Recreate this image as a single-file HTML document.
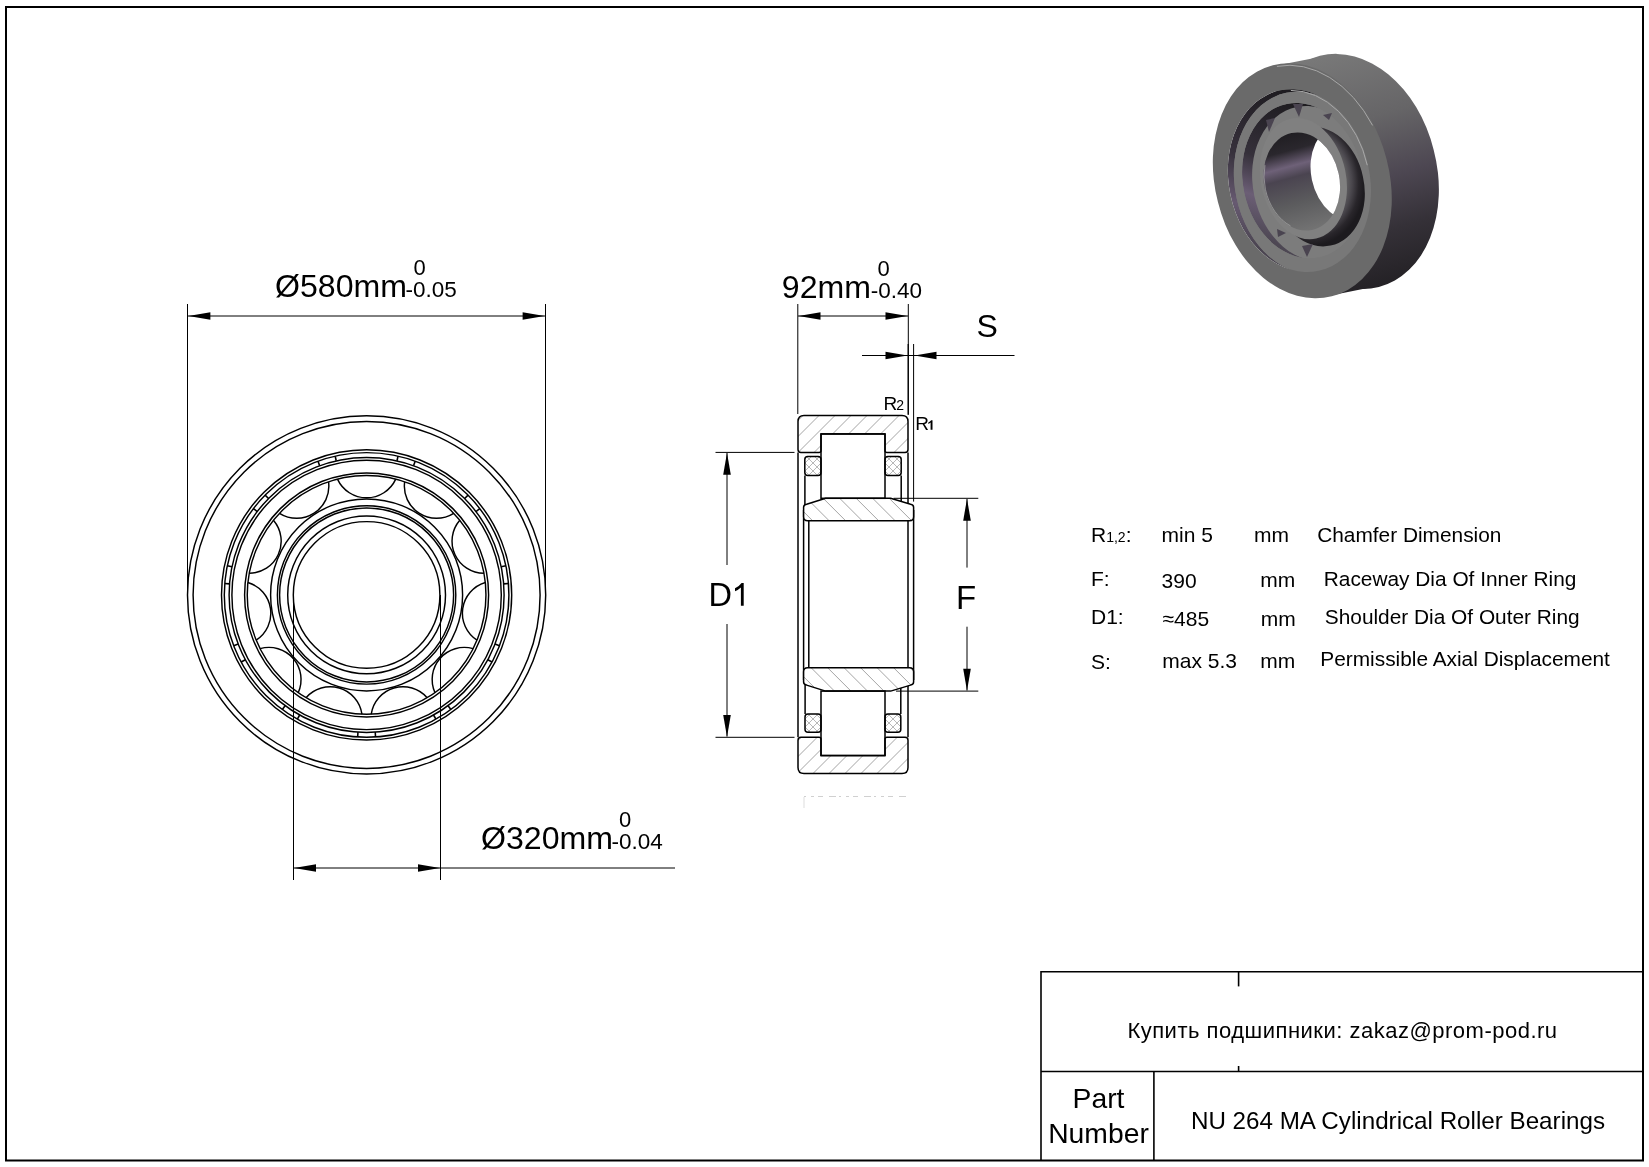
<!DOCTYPE html>
<html><head><meta charset="utf-8"><style>html,body{margin:0;padding:0;background:#fff;overflow:hidden}svg{display:block;will-change:transform}</style></head>
<body><svg width="1649" height="1167" viewBox="0 0 1649 1167">
<defs><clipPath id="cORT"><path d="M798,421.6 Q798,415.6 804,415.6 L902,415.6 Q908,415.6 908,421.6 L908,449.4 Q908,452.4 905,452.4 L887,452.4 Q885,452.4 885,450.4 L885,433.9 L821,433.9 L821,450.4 Q821,452.4 819,452.4 L801,452.4 Q798,452.4 798,449.4 Z"/></clipPath><clipPath id="cORB"><path d="M798,740.3 Q798,737.3 801,737.3 L819,737.3 Q821,737.3 821,739.3 L821,755.6 L885,755.6 L885,739.3 Q885,737.3 887,737.3 L905,737.3 Q908,737.3 908,740.3 L908,767.4 Q908,773.4 902,773.4 L804,773.4 Q798,773.4 798,767.4 Z"/></clipPath><clipPath id="cIRT"><path d="M803.6,507.3 Q803.6,504.8 806.6,504.3 L825.7,498.3 L890.6,498.3 L910.6,504.3 Q913.6,504.8 913.6,507.3 L913.6,516.7 Q913.6,520.7 909.6,520.7 L807.6,520.7 Q803.6,520.7 803.6,516.7 Z"/></clipPath><clipPath id="cIRB"><path d="M803.6,671.8 Q803.6,667.8 807.6,667.8 L909.6,667.8 Q913.6,667.8 913.6,671.8 L913.6,682.1 Q913.6,684.6 910.6,685.1 L890.6,691.1 L825.7,691.1 L806.6,685.1 Q803.6,684.6 803.6,682.1 Z"/></clipPath><clipPath id="cCG0"><path d="M804.8,459.5 Q804.8,456.5 807.8,456.5 L818,456.5 Q821,456.5 821,459.5 L821,472.6 Q821,475.6 818,475.6 L807.8,475.6 Q804.8,475.6 804.8,472.6 Z"/></clipPath><clipPath id="cCG1"><path d="M885,459.5 Q885,456.5 888,456.5 L898.2,456.5 Q901.2,456.5 901.2,459.5 L901.2,472.6 Q901.2,475.6 898.2,475.6 L888,475.6 Q885,475.6 885,472.6 Z"/></clipPath><clipPath id="cCG2"><path d="M805,717 Q805,714 808,714 L818,714 Q821,714 821,717 L821,729.3 Q821,732.3 818,732.3 L808,732.3 Q805,732.3 805,729.3 Z"/></clipPath><clipPath id="cCG3"><path d="M885,717 Q885,714 888,714 L897.8,714 Q900.8,714 900.8,717 L900.8,729.3 Q900.8,732.3 897.8,732.3 L888,732.3 Q885,732.3 885,729.3 Z"/></clipPath></defs>
<rect width="1649" height="1167" fill="#fff"/>
<circle cx="366.6" cy="594.9" r="179.1" fill="none" stroke="#000" stroke-width="1.45"/>
<circle cx="366.6" cy="594.9" r="173.5" fill="none" stroke="#000" stroke-width="1.45"/>
<circle cx="366.6" cy="594.9" r="145.1" fill="none" stroke="#000" stroke-width="1.45"/>
<circle cx="366.6" cy="594.9" r="142.3" fill="none" stroke="#000" stroke-width="1.45"/>
<circle cx="366.6" cy="594.9" r="137.5" fill="none" stroke="#000" stroke-width="1.45"/>
<circle cx="366.6" cy="594.9" r="134.7" fill="none" stroke="#000" stroke-width="1.45"/>
<circle cx="366.6" cy="594.9" r="122.0" fill="none" stroke="#000" stroke-width="1.45"/>
<circle cx="366.6" cy="594.9" r="119.35" fill="none" stroke="#000" stroke-width="1.45"/>
<circle cx="366.6" cy="594.9" r="96.0" fill="none" stroke="#000" stroke-width="1.45"/>
<circle cx="366.6" cy="594.9" r="89.2" fill="none" stroke="#000" stroke-width="1.45"/>
<circle cx="366.6" cy="594.9" r="87.0" fill="none" stroke="#000" stroke-width="1.45"/>
<circle cx="366.6" cy="594.9" r="78.9" fill="none" stroke="#000" stroke-width="1.45"/>
<circle cx="366.6" cy="594.9" r="73.3" fill="none" stroke="#000" stroke-width="1.45"/>
<path d="M337.46,479.16 A32.1,32.1 0 0 0 395.74,479.16" fill="none" stroke="#000" stroke-width="1.45"/>
<path d="M404.66,481.78 A32.1,32.1 0 0 0 453.69,513.29" fill="none" stroke="#000" stroke-width="1.45"/>
<path d="M459.77,520.31 A32.1,32.1 0 0 0 483.98,573.33" fill="none" stroke="#000" stroke-width="1.45"/>
<path d="M485.31,582.53 A32.1,32.1 0 0 0 477.01,640.22" fill="none" stroke="#000" stroke-width="1.45"/>
<path d="M473.15,648.67 A32.1,32.1 0 0 0 434.99,692.72" fill="none" stroke="#000" stroke-width="1.45"/>
<path d="M427.17,697.74 A32.1,32.1 0 0 0 371.25,714.16" fill="none" stroke="#000" stroke-width="1.45"/>
<path d="M361.95,714.16 A32.1,32.1 0 0 0 306.03,697.74" fill="none" stroke="#000" stroke-width="1.45"/>
<path d="M298.21,692.72 A32.1,32.1 0 0 0 260.05,648.67" fill="none" stroke="#000" stroke-width="1.45"/>
<path d="M256.19,640.22 A32.1,32.1 0 0 0 247.89,582.53" fill="none" stroke="#000" stroke-width="1.45"/>
<path d="M249.22,573.33 A32.1,32.1 0 0 0 273.43,520.31" fill="none" stroke="#000" stroke-width="1.45"/>
<path d="M279.51,513.29 A32.1,32.1 0 0 0 328.54,481.78" fill="none" stroke="#000" stroke-width="1.45"/>
<line x1="396.98" y1="460.80" x2="398.04" y2="456.12" stroke="#000" stroke-width="1.6"/>
<line x1="413.55" y1="465.66" x2="415.18" y2="461.15" stroke="#000" stroke-width="1.6"/>
<line x1="464.66" y1="498.51" x2="468.08" y2="495.14" stroke="#000" stroke-width="1.6"/>
<line x1="475.96" y1="511.56" x2="479.78" y2="508.65" stroke="#000" stroke-width="1.6"/>
<line x1="501.20" y1="566.82" x2="505.90" y2="565.84" stroke="#000" stroke-width="1.6"/>
<line x1="503.66" y1="583.92" x2="508.45" y2="583.53" stroke="#000" stroke-width="1.6"/>
<line x1="495.01" y1="644.05" x2="499.50" y2="645.77" stroke="#000" stroke-width="1.6"/>
<line x1="487.84" y1="659.76" x2="492.07" y2="662.02" stroke="#000" stroke-width="1.6"/>
<line x1="448.05" y1="705.68" x2="450.90" y2="709.54" stroke="#000" stroke-width="1.6"/>
<line x1="433.53" y1="715.01" x2="435.86" y2="719.20" stroke="#000" stroke-width="1.6"/>
<line x1="375.23" y1="732.13" x2="375.54" y2="736.92" stroke="#000" stroke-width="1.6"/>
<line x1="357.97" y1="732.13" x2="357.66" y2="736.92" stroke="#000" stroke-width="1.6"/>
<line x1="299.67" y1="715.01" x2="297.34" y2="719.20" stroke="#000" stroke-width="1.6"/>
<line x1="285.15" y1="705.68" x2="282.30" y2="709.54" stroke="#000" stroke-width="1.6"/>
<line x1="245.36" y1="659.76" x2="241.13" y2="662.02" stroke="#000" stroke-width="1.6"/>
<line x1="238.19" y1="644.05" x2="233.70" y2="645.77" stroke="#000" stroke-width="1.6"/>
<line x1="229.54" y1="583.92" x2="224.75" y2="583.53" stroke="#000" stroke-width="1.6"/>
<line x1="232.00" y1="566.82" x2="227.30" y2="565.84" stroke="#000" stroke-width="1.6"/>
<line x1="257.24" y1="511.56" x2="253.42" y2="508.65" stroke="#000" stroke-width="1.6"/>
<line x1="268.54" y1="498.51" x2="265.12" y2="495.14" stroke="#000" stroke-width="1.6"/>
<line x1="319.65" y1="465.66" x2="318.02" y2="461.15" stroke="#000" stroke-width="1.6"/>
<line x1="336.22" y1="460.80" x2="335.16" y2="456.12" stroke="#000" stroke-width="1.6"/>
<line x1="187.5" y1="304" x2="187.5" y2="592" stroke="#000" stroke-width="1"/>
<line x1="545.5" y1="304" x2="545.5" y2="592" stroke="#000" stroke-width="1"/>
<line x1="188" y1="316" x2="545" y2="316" stroke="#000" stroke-width="1"/>
<path d="M188.4,316 L210.40,312.20 L210.40,319.80 Z" fill="#000"/>
<path d="M544.6,316 L522.60,319.80 L522.60,312.20 Z" fill="#000"/>
<text x="275" y="297" font-family="Liberation Sans" font-size="32.1" text-anchor="start" fill="#000" >Ø580mm</text>
<text x="405.5" y="297" font-family="Liberation Sans" font-size="22.5" text-anchor="start" fill="#000" >-0.05</text>
<text x="413.5" y="275" font-family="Liberation Sans" font-size="22" text-anchor="start" fill="#000" >0</text>
<line x1="293.5" y1="595" x2="293.5" y2="880" stroke="#000" stroke-width="1"/>
<line x1="440.5" y1="595" x2="440.5" y2="880" stroke="#000" stroke-width="1"/>
<line x1="294" y1="868" x2="675" y2="868" stroke="#000" stroke-width="1"/>
<path d="M294,868 L316.00,864.20 L316.00,871.80 Z" fill="#000"/>
<path d="M440,868 L418.00,871.80 L418.00,864.20 Z" fill="#000"/>
<text x="481" y="849" font-family="Liberation Sans" font-size="32.1" text-anchor="start" fill="#000" >Ø320mm</text>
<text x="611.5" y="849" font-family="Liberation Sans" font-size="22.5" text-anchor="start" fill="#000" >-0.04</text>
<text x="619" y="827" font-family="Liberation Sans" font-size="22" text-anchor="start" fill="#000" >0</text>
<line x1="798" y1="452.4" x2="798" y2="737.3" stroke="#000" stroke-width="1.5"/>
<line x1="908" y1="452.4" x2="908" y2="737.3" stroke="#000" stroke-width="1.5"/>
<line x1="803.6" y1="510" x2="803.6" y2="680" stroke="#000" stroke-width="1.5"/>
<line x1="913.6" y1="510" x2="913.6" y2="680" stroke="#000" stroke-width="1.5"/>
<line x1="808.8" y1="510" x2="808.8" y2="680" stroke="#000" stroke-width="1.5"/>
<line x1="804.9" y1="475.6" x2="804.9" y2="510" stroke="#000" stroke-width="1.5"/>
<line x1="901.2" y1="475.6" x2="901.2" y2="510" stroke="#000" stroke-width="1.5"/>
<line x1="805.1" y1="680" x2="805.1" y2="714" stroke="#000" stroke-width="1.5"/>
<line x1="900.8" y1="680" x2="900.8" y2="714" stroke="#000" stroke-width="1.5"/>
<path d="M798,421.6 Q798,415.6 804,415.6 L902,415.6 Q908,415.6 908,421.6 L908,449.4 Q908,452.4 905,452.4 L887,452.4 Q885,452.4 885,450.4 L885,433.9 L821,433.9 L821,450.4 Q821,452.4 819,452.4 L801,452.4 Q798,452.4 798,449.4 Z" fill="#fff" stroke="none" stroke-width="0" stroke-linejoin="round" />
<path d="M710.50,460 L760.50,410 M726.50,460 L776.50,410 M742.50,460 L792.50,410 M758.50,460 L808.50,410 M774.50,460 L824.50,410 M790.50,460 L840.50,410 M806.50,460 L856.50,410 M822.50,460 L872.50,410 M838.50,460 L888.50,410 M854.50,460 L904.50,410 M870.50,460 L920.50,410 M886.50,460 L936.50,410 M902.50,460 L952.50,410 M918.50,460 L968.50,410 M934.50,460 L984.50,410 M950.50,460 L1000.50,410 M966.50,460 L1016.50,410 M982.50,460 L1032.50,410" stroke="#9a9a9a" stroke-width="0.9" fill="none" clip-path="url(#cORT)"/>
<path d="M798,740.3 Q798,737.3 801,737.3 L819,737.3 Q821,737.3 821,739.3 L821,755.6 L885,755.6 L885,739.3 Q885,737.3 887,737.3 L905,737.3 Q908,737.3 908,740.3 L908,767.4 Q908,773.4 902,773.4 L804,773.4 Q798,773.4 798,767.4 Z" fill="#fff" stroke="none" stroke-width="0" stroke-linejoin="round" />
<path d="M710.50,780 L760.50,730 M726.50,780 L776.50,730 M742.50,780 L792.50,730 M758.50,780 L808.50,730 M774.50,780 L824.50,730 M790.50,780 L840.50,730 M806.50,780 L856.50,730 M822.50,780 L872.50,730 M838.50,780 L888.50,730 M854.50,780 L904.50,730 M870.50,780 L920.50,730 M886.50,780 L936.50,730 M902.50,780 L952.50,730 M918.50,780 L968.50,730 M934.50,780 L984.50,730 M950.50,780 L1000.50,730 M966.50,780 L1016.50,730 M982.50,780 L1032.50,730" stroke="#9a9a9a" stroke-width="0.9" fill="none" clip-path="url(#cORB)"/>
<path d="M803.6,507.3 Q803.6,504.8 806.6,504.3 L825.7,498.3 L890.6,498.3 L910.6,504.3 Q913.6,504.8 913.6,507.3 L913.6,516.7 Q913.6,520.7 909.6,520.7 L807.6,520.7 Q803.6,520.7 803.6,516.7 Z" fill="#fff" stroke="none" stroke-width="0" stroke-linejoin="round" />
<path d="M737.40,495 L767.40,525 M753.90,495 L783.90,525 M770.40,495 L800.40,525 M786.90,495 L816.90,525 M803.40,495 L833.40,525 M819.90,495 L849.90,525 M836.40,495 L866.40,525 M852.90,495 L882.90,525 M869.40,495 L899.40,525 M885.90,495 L915.90,525 M902.40,495 L932.40,525 M918.90,495 L948.90,525 M935.40,495 L965.40,525 M951.90,495 L981.90,525" stroke="#9a9a9a" stroke-width="0.9" fill="none" clip-path="url(#cIRT)"/>
<path d="M803.6,671.8 Q803.6,667.8 807.6,667.8 L909.6,667.8 Q913.6,667.8 913.6,671.8 L913.6,682.1 Q913.6,684.6 910.6,685.1 L890.6,691.1 L825.7,691.1 L806.6,685.1 Q803.6,684.6 803.6,682.1 Z" fill="#fff" stroke="none" stroke-width="0" stroke-linejoin="round" />
<path d="M737.40,660 L772.40,695 M753.90,660 L788.90,695 M770.40,660 L805.40,695 M786.90,660 L821.90,695 M803.40,660 L838.40,695 M819.90,660 L854.90,695 M836.40,660 L871.40,695 M852.90,660 L887.90,695 M869.40,660 L904.40,695 M885.90,660 L920.90,695 M902.40,660 L937.40,695 M918.90,660 L953.90,695 M935.40,660 L970.40,695 M951.90,660 L986.90,695 M968.40,660 L1003.40,695" stroke="#9a9a9a" stroke-width="0.9" fill="none" clip-path="url(#cIRB)"/>
<path d="M804.8,459.5 Q804.8,456.5 807.8,456.5 L818,456.5 Q821,456.5 821,459.5 L821,472.6 Q821,475.6 818,475.6 L807.8,475.6 Q804.8,475.6 804.8,472.6 Z" fill="#fff" stroke="none" stroke-width="0" stroke-linejoin="round" />
<path d="M496.00,740 L786.00,450 M504.00,740 L794.00,450 M512.00,740 L802.00,450 M520.00,740 L810.00,450 M528.00,740 L818.00,450 M536.00,740 L826.00,450 M544.00,740 L834.00,450 M552.00,740 L842.00,450 M560.00,740 L850.00,450 M568.00,740 L858.00,450 M576.00,740 L866.00,450 M584.00,740 L874.00,450 M592.00,740 L882.00,450 M600.00,740 L890.00,450 M608.00,740 L898.00,450 M616.00,740 L906.00,450 M624.00,740 L914.00,450 M632.00,740 L922.00,450 M640.00,740 L930.00,450 M648.00,740 L938.00,450 M656.00,740 L946.00,450 M664.00,740 L954.00,450 M672.00,740 L962.00,450 M680.00,740 L970.00,450 M688.00,740 L978.00,450 M696.00,740 L986.00,450 M704.00,740 L994.00,450 M712.00,740 L1002.00,450 M720.00,740 L1010.00,450 M728.00,740 L1018.00,450 M736.00,740 L1026.00,450 M744.00,740 L1034.00,450 M752.00,740 L1042.00,450 M760.00,740 L1050.00,450 M768.00,740 L1058.00,450 M776.00,740 L1066.00,450 M784.00,740 L1074.00,450 M792.00,740 L1082.00,450 M800.00,740 L1090.00,450 M808.00,740 L1098.00,450 M816.00,740 L1106.00,450 M824.00,740 L1114.00,450 M832.00,740 L1122.00,450 M840.00,740 L1130.00,450 M848.00,740 L1138.00,450 M856.00,740 L1146.00,450 M864.00,740 L1154.00,450 M872.00,740 L1162.00,450 M880.00,740 L1170.00,450 M888.00,740 L1178.00,450 M896.00,740 L1186.00,450 M904.00,740 L1194.00,450 M912.00,740 L1202.00,450 M920.00,740 L1210.00,450 M928.00,740 L1218.00,450 M936.00,740 L1226.00,450 M944.00,740 L1234.00,450 M952.00,740 L1242.00,450 M960.00,740 L1250.00,450 M968.00,740 L1258.00,450 M976.00,740 L1266.00,450 M984.00,740 L1274.00,450 M992.00,740 L1282.00,450 M1000.00,740 L1290.00,450 M1008.00,740 L1298.00,450 M1016.00,740 L1306.00,450 M1024.00,740 L1314.00,450 M1032.00,740 L1322.00,450 M1040.00,740 L1330.00,450 M1048.00,740 L1338.00,450 M1056.00,740 L1346.00,450 M1064.00,740 L1354.00,450 M1072.00,740 L1362.00,450 M1080.00,740 L1370.00,450 M1088.00,740 L1378.00,450 M1096.00,740 L1386.00,450 M1104.00,740 L1394.00,450 M1112.00,740 L1402.00,450 M1120.00,740 L1410.00,450 M1128.00,740 L1418.00,450 M1136.00,740 L1426.00,450 M1144.00,740 L1434.00,450 M1152.00,740 L1442.00,450 M1160.00,740 L1450.00,450 M1168.00,740 L1458.00,450 M1176.00,740 L1466.00,450 M1184.00,740 L1474.00,450 M1192.00,740 L1482.00,450 M1200.00,740 L1490.00,450" stroke="#999" stroke-width="0.7" fill="none" clip-path="url(#cCG0)"/>
<path d="M496.00,450 L786.00,740 M504.00,450 L794.00,740 M512.00,450 L802.00,740 M520.00,450 L810.00,740 M528.00,450 L818.00,740 M536.00,450 L826.00,740 M544.00,450 L834.00,740 M552.00,450 L842.00,740 M560.00,450 L850.00,740 M568.00,450 L858.00,740 M576.00,450 L866.00,740 M584.00,450 L874.00,740 M592.00,450 L882.00,740 M600.00,450 L890.00,740 M608.00,450 L898.00,740 M616.00,450 L906.00,740 M624.00,450 L914.00,740 M632.00,450 L922.00,740 M640.00,450 L930.00,740 M648.00,450 L938.00,740 M656.00,450 L946.00,740 M664.00,450 L954.00,740 M672.00,450 L962.00,740 M680.00,450 L970.00,740 M688.00,450 L978.00,740 M696.00,450 L986.00,740 M704.00,450 L994.00,740 M712.00,450 L1002.00,740 M720.00,450 L1010.00,740 M728.00,450 L1018.00,740 M736.00,450 L1026.00,740 M744.00,450 L1034.00,740 M752.00,450 L1042.00,740 M760.00,450 L1050.00,740 M768.00,450 L1058.00,740 M776.00,450 L1066.00,740 M784.00,450 L1074.00,740 M792.00,450 L1082.00,740 M800.00,450 L1090.00,740 M808.00,450 L1098.00,740 M816.00,450 L1106.00,740 M824.00,450 L1114.00,740 M832.00,450 L1122.00,740 M840.00,450 L1130.00,740 M848.00,450 L1138.00,740 M856.00,450 L1146.00,740 M864.00,450 L1154.00,740 M872.00,450 L1162.00,740 M880.00,450 L1170.00,740 M888.00,450 L1178.00,740 M896.00,450 L1186.00,740 M904.00,450 L1194.00,740 M912.00,450 L1202.00,740 M920.00,450 L1210.00,740 M928.00,450 L1218.00,740 M936.00,450 L1226.00,740 M944.00,450 L1234.00,740 M952.00,450 L1242.00,740 M960.00,450 L1250.00,740 M968.00,450 L1258.00,740 M976.00,450 L1266.00,740 M984.00,450 L1274.00,740 M992.00,450 L1282.00,740 M1000.00,450 L1290.00,740 M1008.00,450 L1298.00,740 M1016.00,450 L1306.00,740 M1024.00,450 L1314.00,740 M1032.00,450 L1322.00,740 M1040.00,450 L1330.00,740 M1048.00,450 L1338.00,740 M1056.00,450 L1346.00,740 M1064.00,450 L1354.00,740 M1072.00,450 L1362.00,740 M1080.00,450 L1370.00,740 M1088.00,450 L1378.00,740 M1096.00,450 L1386.00,740 M1104.00,450 L1394.00,740 M1112.00,450 L1402.00,740 M1120.00,450 L1410.00,740 M1128.00,450 L1418.00,740 M1136.00,450 L1426.00,740 M1144.00,450 L1434.00,740 M1152.00,450 L1442.00,740 M1160.00,450 L1450.00,740 M1168.00,450 L1458.00,740 M1176.00,450 L1466.00,740 M1184.00,450 L1474.00,740 M1192.00,450 L1482.00,740 M1200.00,450 L1490.00,740" stroke="#999" stroke-width="0.7" fill="none" clip-path="url(#cCG0)"/>
<path d="M885,459.5 Q885,456.5 888,456.5 L898.2,456.5 Q901.2,456.5 901.2,459.5 L901.2,472.6 Q901.2,475.6 898.2,475.6 L888,475.6 Q885,475.6 885,472.6 Z" fill="#fff" stroke="none" stroke-width="0" stroke-linejoin="round" />
<path d="M496.00,740 L786.00,450 M504.00,740 L794.00,450 M512.00,740 L802.00,450 M520.00,740 L810.00,450 M528.00,740 L818.00,450 M536.00,740 L826.00,450 M544.00,740 L834.00,450 M552.00,740 L842.00,450 M560.00,740 L850.00,450 M568.00,740 L858.00,450 M576.00,740 L866.00,450 M584.00,740 L874.00,450 M592.00,740 L882.00,450 M600.00,740 L890.00,450 M608.00,740 L898.00,450 M616.00,740 L906.00,450 M624.00,740 L914.00,450 M632.00,740 L922.00,450 M640.00,740 L930.00,450 M648.00,740 L938.00,450 M656.00,740 L946.00,450 M664.00,740 L954.00,450 M672.00,740 L962.00,450 M680.00,740 L970.00,450 M688.00,740 L978.00,450 M696.00,740 L986.00,450 M704.00,740 L994.00,450 M712.00,740 L1002.00,450 M720.00,740 L1010.00,450 M728.00,740 L1018.00,450 M736.00,740 L1026.00,450 M744.00,740 L1034.00,450 M752.00,740 L1042.00,450 M760.00,740 L1050.00,450 M768.00,740 L1058.00,450 M776.00,740 L1066.00,450 M784.00,740 L1074.00,450 M792.00,740 L1082.00,450 M800.00,740 L1090.00,450 M808.00,740 L1098.00,450 M816.00,740 L1106.00,450 M824.00,740 L1114.00,450 M832.00,740 L1122.00,450 M840.00,740 L1130.00,450 M848.00,740 L1138.00,450 M856.00,740 L1146.00,450 M864.00,740 L1154.00,450 M872.00,740 L1162.00,450 M880.00,740 L1170.00,450 M888.00,740 L1178.00,450 M896.00,740 L1186.00,450 M904.00,740 L1194.00,450 M912.00,740 L1202.00,450 M920.00,740 L1210.00,450 M928.00,740 L1218.00,450 M936.00,740 L1226.00,450 M944.00,740 L1234.00,450 M952.00,740 L1242.00,450 M960.00,740 L1250.00,450 M968.00,740 L1258.00,450 M976.00,740 L1266.00,450 M984.00,740 L1274.00,450 M992.00,740 L1282.00,450 M1000.00,740 L1290.00,450 M1008.00,740 L1298.00,450 M1016.00,740 L1306.00,450 M1024.00,740 L1314.00,450 M1032.00,740 L1322.00,450 M1040.00,740 L1330.00,450 M1048.00,740 L1338.00,450 M1056.00,740 L1346.00,450 M1064.00,740 L1354.00,450 M1072.00,740 L1362.00,450 M1080.00,740 L1370.00,450 M1088.00,740 L1378.00,450 M1096.00,740 L1386.00,450 M1104.00,740 L1394.00,450 M1112.00,740 L1402.00,450 M1120.00,740 L1410.00,450 M1128.00,740 L1418.00,450 M1136.00,740 L1426.00,450 M1144.00,740 L1434.00,450 M1152.00,740 L1442.00,450 M1160.00,740 L1450.00,450 M1168.00,740 L1458.00,450 M1176.00,740 L1466.00,450 M1184.00,740 L1474.00,450 M1192.00,740 L1482.00,450 M1200.00,740 L1490.00,450" stroke="#999" stroke-width="0.7" fill="none" clip-path="url(#cCG1)"/>
<path d="M496.00,450 L786.00,740 M504.00,450 L794.00,740 M512.00,450 L802.00,740 M520.00,450 L810.00,740 M528.00,450 L818.00,740 M536.00,450 L826.00,740 M544.00,450 L834.00,740 M552.00,450 L842.00,740 M560.00,450 L850.00,740 M568.00,450 L858.00,740 M576.00,450 L866.00,740 M584.00,450 L874.00,740 M592.00,450 L882.00,740 M600.00,450 L890.00,740 M608.00,450 L898.00,740 M616.00,450 L906.00,740 M624.00,450 L914.00,740 M632.00,450 L922.00,740 M640.00,450 L930.00,740 M648.00,450 L938.00,740 M656.00,450 L946.00,740 M664.00,450 L954.00,740 M672.00,450 L962.00,740 M680.00,450 L970.00,740 M688.00,450 L978.00,740 M696.00,450 L986.00,740 M704.00,450 L994.00,740 M712.00,450 L1002.00,740 M720.00,450 L1010.00,740 M728.00,450 L1018.00,740 M736.00,450 L1026.00,740 M744.00,450 L1034.00,740 M752.00,450 L1042.00,740 M760.00,450 L1050.00,740 M768.00,450 L1058.00,740 M776.00,450 L1066.00,740 M784.00,450 L1074.00,740 M792.00,450 L1082.00,740 M800.00,450 L1090.00,740 M808.00,450 L1098.00,740 M816.00,450 L1106.00,740 M824.00,450 L1114.00,740 M832.00,450 L1122.00,740 M840.00,450 L1130.00,740 M848.00,450 L1138.00,740 M856.00,450 L1146.00,740 M864.00,450 L1154.00,740 M872.00,450 L1162.00,740 M880.00,450 L1170.00,740 M888.00,450 L1178.00,740 M896.00,450 L1186.00,740 M904.00,450 L1194.00,740 M912.00,450 L1202.00,740 M920.00,450 L1210.00,740 M928.00,450 L1218.00,740 M936.00,450 L1226.00,740 M944.00,450 L1234.00,740 M952.00,450 L1242.00,740 M960.00,450 L1250.00,740 M968.00,450 L1258.00,740 M976.00,450 L1266.00,740 M984.00,450 L1274.00,740 M992.00,450 L1282.00,740 M1000.00,450 L1290.00,740 M1008.00,450 L1298.00,740 M1016.00,450 L1306.00,740 M1024.00,450 L1314.00,740 M1032.00,450 L1322.00,740 M1040.00,450 L1330.00,740 M1048.00,450 L1338.00,740 M1056.00,450 L1346.00,740 M1064.00,450 L1354.00,740 M1072.00,450 L1362.00,740 M1080.00,450 L1370.00,740 M1088.00,450 L1378.00,740 M1096.00,450 L1386.00,740 M1104.00,450 L1394.00,740 M1112.00,450 L1402.00,740 M1120.00,450 L1410.00,740 M1128.00,450 L1418.00,740 M1136.00,450 L1426.00,740 M1144.00,450 L1434.00,740 M1152.00,450 L1442.00,740 M1160.00,450 L1450.00,740 M1168.00,450 L1458.00,740 M1176.00,450 L1466.00,740 M1184.00,450 L1474.00,740 M1192.00,450 L1482.00,740 M1200.00,450 L1490.00,740" stroke="#999" stroke-width="0.7" fill="none" clip-path="url(#cCG1)"/>
<path d="M805,717 Q805,714 808,714 L818,714 Q821,714 821,717 L821,729.3 Q821,732.3 818,732.3 L808,732.3 Q805,732.3 805,729.3 Z" fill="#fff" stroke="none" stroke-width="0" stroke-linejoin="round" />
<path d="M496.00,740 L786.00,450 M504.00,740 L794.00,450 M512.00,740 L802.00,450 M520.00,740 L810.00,450 M528.00,740 L818.00,450 M536.00,740 L826.00,450 M544.00,740 L834.00,450 M552.00,740 L842.00,450 M560.00,740 L850.00,450 M568.00,740 L858.00,450 M576.00,740 L866.00,450 M584.00,740 L874.00,450 M592.00,740 L882.00,450 M600.00,740 L890.00,450 M608.00,740 L898.00,450 M616.00,740 L906.00,450 M624.00,740 L914.00,450 M632.00,740 L922.00,450 M640.00,740 L930.00,450 M648.00,740 L938.00,450 M656.00,740 L946.00,450 M664.00,740 L954.00,450 M672.00,740 L962.00,450 M680.00,740 L970.00,450 M688.00,740 L978.00,450 M696.00,740 L986.00,450 M704.00,740 L994.00,450 M712.00,740 L1002.00,450 M720.00,740 L1010.00,450 M728.00,740 L1018.00,450 M736.00,740 L1026.00,450 M744.00,740 L1034.00,450 M752.00,740 L1042.00,450 M760.00,740 L1050.00,450 M768.00,740 L1058.00,450 M776.00,740 L1066.00,450 M784.00,740 L1074.00,450 M792.00,740 L1082.00,450 M800.00,740 L1090.00,450 M808.00,740 L1098.00,450 M816.00,740 L1106.00,450 M824.00,740 L1114.00,450 M832.00,740 L1122.00,450 M840.00,740 L1130.00,450 M848.00,740 L1138.00,450 M856.00,740 L1146.00,450 M864.00,740 L1154.00,450 M872.00,740 L1162.00,450 M880.00,740 L1170.00,450 M888.00,740 L1178.00,450 M896.00,740 L1186.00,450 M904.00,740 L1194.00,450 M912.00,740 L1202.00,450 M920.00,740 L1210.00,450 M928.00,740 L1218.00,450 M936.00,740 L1226.00,450 M944.00,740 L1234.00,450 M952.00,740 L1242.00,450 M960.00,740 L1250.00,450 M968.00,740 L1258.00,450 M976.00,740 L1266.00,450 M984.00,740 L1274.00,450 M992.00,740 L1282.00,450 M1000.00,740 L1290.00,450 M1008.00,740 L1298.00,450 M1016.00,740 L1306.00,450 M1024.00,740 L1314.00,450 M1032.00,740 L1322.00,450 M1040.00,740 L1330.00,450 M1048.00,740 L1338.00,450 M1056.00,740 L1346.00,450 M1064.00,740 L1354.00,450 M1072.00,740 L1362.00,450 M1080.00,740 L1370.00,450 M1088.00,740 L1378.00,450 M1096.00,740 L1386.00,450 M1104.00,740 L1394.00,450 M1112.00,740 L1402.00,450 M1120.00,740 L1410.00,450 M1128.00,740 L1418.00,450 M1136.00,740 L1426.00,450 M1144.00,740 L1434.00,450 M1152.00,740 L1442.00,450 M1160.00,740 L1450.00,450 M1168.00,740 L1458.00,450 M1176.00,740 L1466.00,450 M1184.00,740 L1474.00,450 M1192.00,740 L1482.00,450 M1200.00,740 L1490.00,450" stroke="#999" stroke-width="0.7" fill="none" clip-path="url(#cCG2)"/>
<path d="M496.00,450 L786.00,740 M504.00,450 L794.00,740 M512.00,450 L802.00,740 M520.00,450 L810.00,740 M528.00,450 L818.00,740 M536.00,450 L826.00,740 M544.00,450 L834.00,740 M552.00,450 L842.00,740 M560.00,450 L850.00,740 M568.00,450 L858.00,740 M576.00,450 L866.00,740 M584.00,450 L874.00,740 M592.00,450 L882.00,740 M600.00,450 L890.00,740 M608.00,450 L898.00,740 M616.00,450 L906.00,740 M624.00,450 L914.00,740 M632.00,450 L922.00,740 M640.00,450 L930.00,740 M648.00,450 L938.00,740 M656.00,450 L946.00,740 M664.00,450 L954.00,740 M672.00,450 L962.00,740 M680.00,450 L970.00,740 M688.00,450 L978.00,740 M696.00,450 L986.00,740 M704.00,450 L994.00,740 M712.00,450 L1002.00,740 M720.00,450 L1010.00,740 M728.00,450 L1018.00,740 M736.00,450 L1026.00,740 M744.00,450 L1034.00,740 M752.00,450 L1042.00,740 M760.00,450 L1050.00,740 M768.00,450 L1058.00,740 M776.00,450 L1066.00,740 M784.00,450 L1074.00,740 M792.00,450 L1082.00,740 M800.00,450 L1090.00,740 M808.00,450 L1098.00,740 M816.00,450 L1106.00,740 M824.00,450 L1114.00,740 M832.00,450 L1122.00,740 M840.00,450 L1130.00,740 M848.00,450 L1138.00,740 M856.00,450 L1146.00,740 M864.00,450 L1154.00,740 M872.00,450 L1162.00,740 M880.00,450 L1170.00,740 M888.00,450 L1178.00,740 M896.00,450 L1186.00,740 M904.00,450 L1194.00,740 M912.00,450 L1202.00,740 M920.00,450 L1210.00,740 M928.00,450 L1218.00,740 M936.00,450 L1226.00,740 M944.00,450 L1234.00,740 M952.00,450 L1242.00,740 M960.00,450 L1250.00,740 M968.00,450 L1258.00,740 M976.00,450 L1266.00,740 M984.00,450 L1274.00,740 M992.00,450 L1282.00,740 M1000.00,450 L1290.00,740 M1008.00,450 L1298.00,740 M1016.00,450 L1306.00,740 M1024.00,450 L1314.00,740 M1032.00,450 L1322.00,740 M1040.00,450 L1330.00,740 M1048.00,450 L1338.00,740 M1056.00,450 L1346.00,740 M1064.00,450 L1354.00,740 M1072.00,450 L1362.00,740 M1080.00,450 L1370.00,740 M1088.00,450 L1378.00,740 M1096.00,450 L1386.00,740 M1104.00,450 L1394.00,740 M1112.00,450 L1402.00,740 M1120.00,450 L1410.00,740 M1128.00,450 L1418.00,740 M1136.00,450 L1426.00,740 M1144.00,450 L1434.00,740 M1152.00,450 L1442.00,740 M1160.00,450 L1450.00,740 M1168.00,450 L1458.00,740 M1176.00,450 L1466.00,740 M1184.00,450 L1474.00,740 M1192.00,450 L1482.00,740 M1200.00,450 L1490.00,740" stroke="#999" stroke-width="0.7" fill="none" clip-path="url(#cCG2)"/>
<path d="M885,717 Q885,714 888,714 L897.8,714 Q900.8,714 900.8,717 L900.8,729.3 Q900.8,732.3 897.8,732.3 L888,732.3 Q885,732.3 885,729.3 Z" fill="#fff" stroke="none" stroke-width="0" stroke-linejoin="round" />
<path d="M496.00,740 L786.00,450 M504.00,740 L794.00,450 M512.00,740 L802.00,450 M520.00,740 L810.00,450 M528.00,740 L818.00,450 M536.00,740 L826.00,450 M544.00,740 L834.00,450 M552.00,740 L842.00,450 M560.00,740 L850.00,450 M568.00,740 L858.00,450 M576.00,740 L866.00,450 M584.00,740 L874.00,450 M592.00,740 L882.00,450 M600.00,740 L890.00,450 M608.00,740 L898.00,450 M616.00,740 L906.00,450 M624.00,740 L914.00,450 M632.00,740 L922.00,450 M640.00,740 L930.00,450 M648.00,740 L938.00,450 M656.00,740 L946.00,450 M664.00,740 L954.00,450 M672.00,740 L962.00,450 M680.00,740 L970.00,450 M688.00,740 L978.00,450 M696.00,740 L986.00,450 M704.00,740 L994.00,450 M712.00,740 L1002.00,450 M720.00,740 L1010.00,450 M728.00,740 L1018.00,450 M736.00,740 L1026.00,450 M744.00,740 L1034.00,450 M752.00,740 L1042.00,450 M760.00,740 L1050.00,450 M768.00,740 L1058.00,450 M776.00,740 L1066.00,450 M784.00,740 L1074.00,450 M792.00,740 L1082.00,450 M800.00,740 L1090.00,450 M808.00,740 L1098.00,450 M816.00,740 L1106.00,450 M824.00,740 L1114.00,450 M832.00,740 L1122.00,450 M840.00,740 L1130.00,450 M848.00,740 L1138.00,450 M856.00,740 L1146.00,450 M864.00,740 L1154.00,450 M872.00,740 L1162.00,450 M880.00,740 L1170.00,450 M888.00,740 L1178.00,450 M896.00,740 L1186.00,450 M904.00,740 L1194.00,450 M912.00,740 L1202.00,450 M920.00,740 L1210.00,450 M928.00,740 L1218.00,450 M936.00,740 L1226.00,450 M944.00,740 L1234.00,450 M952.00,740 L1242.00,450 M960.00,740 L1250.00,450 M968.00,740 L1258.00,450 M976.00,740 L1266.00,450 M984.00,740 L1274.00,450 M992.00,740 L1282.00,450 M1000.00,740 L1290.00,450 M1008.00,740 L1298.00,450 M1016.00,740 L1306.00,450 M1024.00,740 L1314.00,450 M1032.00,740 L1322.00,450 M1040.00,740 L1330.00,450 M1048.00,740 L1338.00,450 M1056.00,740 L1346.00,450 M1064.00,740 L1354.00,450 M1072.00,740 L1362.00,450 M1080.00,740 L1370.00,450 M1088.00,740 L1378.00,450 M1096.00,740 L1386.00,450 M1104.00,740 L1394.00,450 M1112.00,740 L1402.00,450 M1120.00,740 L1410.00,450 M1128.00,740 L1418.00,450 M1136.00,740 L1426.00,450 M1144.00,740 L1434.00,450 M1152.00,740 L1442.00,450 M1160.00,740 L1450.00,450 M1168.00,740 L1458.00,450 M1176.00,740 L1466.00,450 M1184.00,740 L1474.00,450 M1192.00,740 L1482.00,450 M1200.00,740 L1490.00,450" stroke="#999" stroke-width="0.7" fill="none" clip-path="url(#cCG3)"/>
<path d="M496.00,450 L786.00,740 M504.00,450 L794.00,740 M512.00,450 L802.00,740 M520.00,450 L810.00,740 M528.00,450 L818.00,740 M536.00,450 L826.00,740 M544.00,450 L834.00,740 M552.00,450 L842.00,740 M560.00,450 L850.00,740 M568.00,450 L858.00,740 M576.00,450 L866.00,740 M584.00,450 L874.00,740 M592.00,450 L882.00,740 M600.00,450 L890.00,740 M608.00,450 L898.00,740 M616.00,450 L906.00,740 M624.00,450 L914.00,740 M632.00,450 L922.00,740 M640.00,450 L930.00,740 M648.00,450 L938.00,740 M656.00,450 L946.00,740 M664.00,450 L954.00,740 M672.00,450 L962.00,740 M680.00,450 L970.00,740 M688.00,450 L978.00,740 M696.00,450 L986.00,740 M704.00,450 L994.00,740 M712.00,450 L1002.00,740 M720.00,450 L1010.00,740 M728.00,450 L1018.00,740 M736.00,450 L1026.00,740 M744.00,450 L1034.00,740 M752.00,450 L1042.00,740 M760.00,450 L1050.00,740 M768.00,450 L1058.00,740 M776.00,450 L1066.00,740 M784.00,450 L1074.00,740 M792.00,450 L1082.00,740 M800.00,450 L1090.00,740 M808.00,450 L1098.00,740 M816.00,450 L1106.00,740 M824.00,450 L1114.00,740 M832.00,450 L1122.00,740 M840.00,450 L1130.00,740 M848.00,450 L1138.00,740 M856.00,450 L1146.00,740 M864.00,450 L1154.00,740 M872.00,450 L1162.00,740 M880.00,450 L1170.00,740 M888.00,450 L1178.00,740 M896.00,450 L1186.00,740 M904.00,450 L1194.00,740 M912.00,450 L1202.00,740 M920.00,450 L1210.00,740 M928.00,450 L1218.00,740 M936.00,450 L1226.00,740 M944.00,450 L1234.00,740 M952.00,450 L1242.00,740 M960.00,450 L1250.00,740 M968.00,450 L1258.00,740 M976.00,450 L1266.00,740 M984.00,450 L1274.00,740 M992.00,450 L1282.00,740 M1000.00,450 L1290.00,740 M1008.00,450 L1298.00,740 M1016.00,450 L1306.00,740 M1024.00,450 L1314.00,740 M1032.00,450 L1322.00,740 M1040.00,450 L1330.00,740 M1048.00,450 L1338.00,740 M1056.00,450 L1346.00,740 M1064.00,450 L1354.00,740 M1072.00,450 L1362.00,740 M1080.00,450 L1370.00,740 M1088.00,450 L1378.00,740 M1096.00,450 L1386.00,740 M1104.00,450 L1394.00,740 M1112.00,450 L1402.00,740 M1120.00,450 L1410.00,740 M1128.00,450 L1418.00,740 M1136.00,450 L1426.00,740 M1144.00,450 L1434.00,740 M1152.00,450 L1442.00,740 M1160.00,450 L1450.00,740 M1168.00,450 L1458.00,740 M1176.00,450 L1466.00,740 M1184.00,450 L1474.00,740 M1192.00,450 L1482.00,740 M1200.00,450 L1490.00,740" stroke="#999" stroke-width="0.7" fill="none" clip-path="url(#cCG3)"/>
<path d="M804.8,459.5 Q804.8,456.5 807.8,456.5 L818,456.5 Q821,456.5 821,459.5 L821,472.6 Q821,475.6 818,475.6 L807.8,475.6 Q804.8,475.6 804.8,472.6 Z" fill="none" stroke="#000" stroke-width="1.5" stroke-linejoin="round" />
<path d="M885,459.5 Q885,456.5 888,456.5 L898.2,456.5 Q901.2,456.5 901.2,459.5 L901.2,472.6 Q901.2,475.6 898.2,475.6 L888,475.6 Q885,475.6 885,472.6 Z" fill="none" stroke="#000" stroke-width="1.5" stroke-linejoin="round" />
<path d="M805,717 Q805,714 808,714 L818,714 Q821,714 821,717 L821,729.3 Q821,732.3 818,732.3 L808,732.3 Q805,732.3 805,729.3 Z" fill="none" stroke="#000" stroke-width="1.5" stroke-linejoin="round" />
<path d="M885,717 Q885,714 888,714 L897.8,714 Q900.8,714 900.8,717 L900.8,729.3 Q900.8,732.3 897.8,732.3 L888,732.3 Q885,732.3 885,729.3 Z" fill="none" stroke="#000" stroke-width="1.5" stroke-linejoin="round" />
<path d="M798,421.6 Q798,415.6 804,415.6 L902,415.6 Q908,415.6 908,421.6 L908,449.4 Q908,452.4 905,452.4 L887,452.4 Q885,452.4 885,450.4 L885,433.9 L821,433.9 L821,450.4 Q821,452.4 819,452.4 L801,452.4 Q798,452.4 798,449.4 Z" fill="none" stroke="#000" stroke-width="1.5" stroke-linejoin="round" />
<path d="M798,740.3 Q798,737.3 801,737.3 L819,737.3 Q821,737.3 821,739.3 L821,755.6 L885,755.6 L885,739.3 Q885,737.3 887,737.3 L905,737.3 Q908,737.3 908,740.3 L908,767.4 Q908,773.4 902,773.4 L804,773.4 Q798,773.4 798,767.4 Z" fill="none" stroke="#000" stroke-width="1.5" stroke-linejoin="round" />
<path d="M803.6,507.3 Q803.6,504.8 806.6,504.3 L825.7,498.3 L890.6,498.3 L910.6,504.3 Q913.6,504.8 913.6,507.3 L913.6,516.7 Q913.6,520.7 909.6,520.7 L807.6,520.7 Q803.6,520.7 803.6,516.7 Z" fill="none" stroke="#000" stroke-width="1.5" stroke-linejoin="round" />
<path d="M803.6,671.8 Q803.6,667.8 807.6,667.8 L909.6,667.8 Q913.6,667.8 913.6,671.8 L913.6,682.1 Q913.6,684.6 910.6,685.1 L890.6,691.1 L825.7,691.1 L806.6,685.1 Q803.6,684.6 803.6,682.1 Z" fill="none" stroke="#000" stroke-width="1.5" stroke-linejoin="round" />
<rect x="821" y="433.9" width="64" height="64.4" fill="none" stroke="#000" stroke-width="1.5"/>
<rect x="821" y="691.1" width="64" height="64.5" fill="none" stroke="#000" stroke-width="1.5"/>
<line x1="797.8" y1="304" x2="797.8" y2="414" stroke="#000" stroke-width="1"/>
<line x1="908.3" y1="304" x2="908.3" y2="414" stroke="#000" stroke-width="1"/>
<line x1="798" y1="316" x2="908" y2="316" stroke="#000" stroke-width="1"/>
<path d="M798.5,316 L820.50,312.20 L820.50,319.80 Z" fill="#000"/>
<path d="M907.5,316 L885.50,319.80 L885.50,312.20 Z" fill="#000"/>
<text x="781.8" y="298" font-family="Liberation Sans" font-size="32.1" text-anchor="start" fill="#000" >92mm</text>
<text x="870.7" y="298" font-family="Liberation Sans" font-size="22.5" text-anchor="start" fill="#000" >-0.40</text>
<text x="877.5" y="276" font-family="Liberation Sans" font-size="22" text-anchor="start" fill="#000" >0</text>
<line x1="862" y1="355.5" x2="1014.5" y2="355.5" stroke="#000" stroke-width="1"/>
<line x1="913.6" y1="344" x2="913.6" y2="501.6" stroke="#000" stroke-width="1"/>
<line x1="908.2" y1="344" x2="908.2" y2="415" stroke="#000" stroke-width="1.2"/>
<path d="M907.5,355.5 L885.50,359.30 L885.50,351.70 Z" fill="#000"/>
<path d="M914.5,355.5 L936.50,351.70 L936.50,359.30 Z" fill="#000"/>
<text x="976.5" y="337" font-family="Liberation Sans" font-size="32" text-anchor="start" fill="#000" >S</text>
<text x="883.5" y="409.7" font-family="Liberation Sans" font-size="19" text-anchor="start" fill="#000" >R</text>
<text x="896.3" y="409.7" font-family="Liberation Sans" font-size="14" text-anchor="start" fill="#000" >2</text>
<text x="915.2" y="429.8" font-family="Liberation Sans" font-size="19" text-anchor="start" fill="#000" >R</text>
<path d="M932.5,420.2 L932.5,429.8 L930.6,429.8 L930.6,422.6 Q929.7,423.5 928.3,424.1 L928.3,422.5 Q930.1,421.6 931.2,420.2 Z" fill="#000"/>
<line x1="715.5" y1="452.4" x2="794.5" y2="452.4" stroke="#000" stroke-width="1"/>
<line x1="715.5" y1="737.3" x2="794.5" y2="737.3" stroke="#000" stroke-width="1"/>
<line x1="727" y1="453" x2="727" y2="565" stroke="#000" stroke-width="1"/>
<line x1="727" y1="624" x2="727" y2="736.5" stroke="#000" stroke-width="1"/>
<path d="M727,452.8 L730.80,474.80 L723.20,474.80 Z" fill="#000"/>
<path d="M727,736.9 L723.20,714.90 L730.80,714.90 Z" fill="#000"/>
<text x="708.5" y="606" font-family="Liberation Sans" font-size="32.5" text-anchor="start" fill="#000" >D</text>
<path d="M743.7,582.9 L743.7,605.7 L740.9,605.7 L740.9,587.6 Q738.6,589.9 735,591.3 L735,588.3 Q739.3,586.1 741.6,582.9 Z" fill="#000"/>
<line x1="893.6" y1="498.3" x2="978.3" y2="498.3" stroke="#000" stroke-width="1"/>
<line x1="896" y1="691.1" x2="978.3" y2="691.1" stroke="#000" stroke-width="1"/>
<line x1="967.0" y1="499" x2="967.0" y2="567.6" stroke="#000" stroke-width="1"/>
<line x1="967.0" y1="626.7" x2="967.0" y2="690.5" stroke="#000" stroke-width="1"/>
<path d="M967.0,498.7 L970.80,520.70 L963.20,520.70 Z" fill="#000"/>
<path d="M967.0,690.7 L963.20,668.70 L970.80,668.70 Z" fill="#000"/>
<text x="956" y="609" font-family="Liberation Sans" font-size="33" text-anchor="start" fill="#000" >F</text>
<path d="M804,808 L804,797" fill="none" stroke="#ddd" stroke-width="1"/>
<path d="M804,796.5 L906,796.5" fill="none" stroke="#d0d0d0" stroke-width="1" stroke-dasharray="2 5 3 4 5 6 7 3"/>
<text x="1091" y="541.8" font-family="Liberation Sans" font-size="21" text-anchor="start" fill="#000" >R<tspan font-size="14">1,2</tspan>:</text>
<text x="1161.6" y="541.8" font-family="Liberation Sans" font-size="21" text-anchor="start" fill="#000" >min 5</text>
<text x="1253.9" y="541.8" font-family="Liberation Sans" font-size="21" text-anchor="start" fill="#000" >mm</text>
<text x="1317.2" y="541.5" font-family="Liberation Sans" font-size="20.85" text-anchor="start" fill="#000" >Chamfer Dimension</text>
<text x="1091" y="585.8" font-family="Liberation Sans" font-size="21" text-anchor="start" fill="#000" >F:</text>
<text x="1161.6" y="587.8" font-family="Liberation Sans" font-size="21" text-anchor="start" fill="#000" >390</text>
<text x="1260.2" y="587.3" font-family="Liberation Sans" font-size="21" text-anchor="start" fill="#000" >mm</text>
<text x="1323.8" y="585.8" font-family="Liberation Sans" font-size="20.85" text-anchor="start" fill="#000" >Raceway Dia Of Inner Ring</text>
<text x="1091" y="623.7" font-family="Liberation Sans" font-size="21" text-anchor="start" fill="#000" >D1:</text>
<text x="1162.6" y="626.2" font-family="Liberation Sans" font-size="21" text-anchor="start" fill="#000" >≈485</text>
<text x="1260.8" y="626.2" font-family="Liberation Sans" font-size="21" text-anchor="start" fill="#000" >mm</text>
<text x="1324.8" y="623.7" font-family="Liberation Sans" font-size="20.85" text-anchor="start" fill="#000" >Shoulder Dia Of Outer Ring</text>
<text x="1091" y="669.4" font-family="Liberation Sans" font-size="21" text-anchor="start" fill="#000" >S:</text>
<text x="1162.3" y="668.3" font-family="Liberation Sans" font-size="21" text-anchor="start" fill="#000" >max 5.3</text>
<text x="1260.2" y="668.3" font-family="Liberation Sans" font-size="21" text-anchor="start" fill="#000" >mm</text>
<text x="1320.3" y="666.2" font-family="Liberation Sans" font-size="20.85" text-anchor="start" fill="#000" >Permissible Axial Displacement</text>
<line x1="1041" y1="971.8" x2="1643" y2="971.8" stroke="#000" stroke-width="1.6"/>
<line x1="1041" y1="971" x2="1041" y2="1161" stroke="#000" stroke-width="1.6"/>
<line x1="1041" y1="1071.5" x2="1643" y2="1071.5" stroke="#000" stroke-width="1.6"/>
<line x1="1153.9" y1="1071.2" x2="1153.9" y2="1161" stroke="#000" stroke-width="1.6"/>
<line x1="1238.6" y1="971.8" x2="1238.6" y2="986.4" stroke="#000" stroke-width="1.6"/>
<line x1="1238.6" y1="1066" x2="1238.6" y2="1071.2" stroke="#000" stroke-width="1.6"/>
<text x="1342.5" y="1037.5" font-family="Liberation Sans" font-size="22" text-anchor="middle" fill="#000" letter-spacing="0.5">Купить подшипники: zakaz@prom-pod.ru</text>
<text x="1098.5" y="1108.2" font-family="Liberation Sans" font-size="28.3" text-anchor="middle" fill="#000" >Part</text>
<text x="1098.5" y="1143.2" font-family="Liberation Sans" font-size="28.3" text-anchor="middle" fill="#000" >Number</text>
<text x="1398" y="1128.5" font-family="Liberation Sans" font-size="24.2" text-anchor="middle" fill="#000" >NU 264 MA Cylindrical Roller Bearings</text>
<rect x="6" y="7" width="1637" height="1153.5" fill="none" stroke="#000" stroke-width="2"/>
<defs>
<linearGradient id="gSide" gradientUnits="userSpaceOnUse" x1="1330" y1="55" x2="1400" y2="300">
  <stop offset="0" stop-color="#787878"/>
  <stop offset="0.28" stop-color="#666567"/>
  <stop offset="0.52" stop-color="#4d4752"/>
  <stop offset="0.72" stop-color="#353138"/>
  <stop offset="1" stop-color="#1e1c1f"/>
</linearGradient>
<linearGradient id="gBore" gradientUnits="userSpaceOnUse" x1="1290" y1="131" x2="1317" y2="231">
  <stop offset="0" stop-color="#1f1d21"/>
  <stop offset="0.18" stop-color="#2a272d"/>
  <stop offset="0.33" stop-color="#6e6178"/>
  <stop offset="0.44" stop-color="#4a4450"/>
  <stop offset="0.7" stop-color="#5c5c5e"/>
  <stop offset="1" stop-color="#757575"/>
</linearGradient>
<linearGradient id="gGroove" gradientUnits="userSpaceOnUse" x1="1290" y1="88" x2="1235" y2="240">
  <stop offset="0" stop-color="#1c1a1e"/>
  <stop offset="0.5" stop-color="#37313c"/>
  <stop offset="0.78" stop-color="#675a71"/>
  <stop offset="1" stop-color="#4a4450"/>
</linearGradient>
<linearGradient id="gGap" gradientUnits="userSpaceOnUse" x1="1295" y1="103" x2="1250" y2="235">
  <stop offset="0" stop-color="#1e1c20"/>
  <stop offset="0.45" stop-color="#35303a"/>
  <stop offset="0.72" stop-color="#6b5e75"/>
  <stop offset="1" stop-color="#4d4753"/>
</linearGradient>
<radialGradient id="gRgap" gradientUnits="userSpaceOnUse" cx="0" cy="0" r="1" gradientTransform="translate(1307,180) rotate(-12) scale(57,66)">
  <stop offset="0.62" stop-color="#6e6e6e"/>
  <stop offset="0.78" stop-color="#4a474d"/>
  <stop offset="0.9" stop-color="#29262b"/>
  <stop offset="1" stop-color="#1c1a1e"/>
</radialGradient>
<clipPath id="cBore"><path d="M1338.68,173.65 A37.75,49.5 -12 1 1 1264.82,189.35 A37.75,49.5 -12 1 1 1338.68,173.65 Z"/></clipPath>
</defs>
<path d="M1433.70,149.91 A87.0,118.1 -14.3 1 1 1265.10,192.89 A87.0,118.1 -14.3 1 1 1433.70,149.91 Z" fill="url(#gSide)" />
<path d="M1328.1,296.0 L1375.2,286.6 L1323.6,56.2 L1276.5,65.6 Z" fill="url(#gSide)"/>
<path d="M1368.26,165.96 A70.4,91.8 -12 1 1 1230.54,195.24 A70.4,91.8 -12 1 1 1368.26,165.96 Z" fill="url(#gGroove)" />
<path d="M1374.26,168.46 A70.4,91.8 -12 1 1 1236.54,197.74 A70.4,91.8 -12 1 1 1374.26,168.46 Z" fill="#787878" />
<path d="M1361.69,168.13 A60.0,78.4 -12 1 1 1244.31,193.07 A60.0,78.4 -12 1 1 1361.69,168.13 Z" fill="url(#gGap)" />
<path d="M1371.69,171.13 A60.0,78.4 -12 1 1 1254.31,196.07 A60.0,78.4 -12 1 1 1371.69,171.13 Z" fill="#7c7c7c" />
<path d="M1374.26,168.46 A70.4,91.8 -12 1 1 1236.54,197.74 A70.4,91.8 -12 1 1 1374.26,168.46 Z M1361.69,168.13 A60.0,78.4 -12 1 1 1244.31,193.07 A60.0,78.4 -12 1 1 1361.69,168.13 Z" fill="#787878" fill-rule="evenodd"/>
<path d="M1386.60,159.31 A87.0,118.1 -14.3 1 1 1218.00,202.29 A87.0,118.1 -14.3 1 1 1386.60,159.31 Z M1368.26,165.96 A70.4,91.8 -12 1 1 1230.54,195.24 A70.4,91.8 -12 1 1 1368.26,165.96 Z" fill="#6a6a6a" fill-rule="evenodd"/>
<path d="M1385.64,159.56 A86.0,117.1 -14.3 1 1 1218.96,202.04 A86.0,117.1 -14.3 1 1 1385.64,159.56 Z" fill="none" stroke="#a8a8a8" stroke-width="1" stroke-dasharray="0 485 120 1000"/>
<path d="M1367.48,166.13 A69.6,91 -12 1 1 1231.32,195.07 A69.6,91 -12 1 1 1367.48,166.13 Z" fill="none" stroke="#a8a8a8" stroke-width="1" stroke-dasharray="0 390 115 1000"/>
<path d="M1362.99,176.94 A46.0,59.5 -12 1 1 1273.01,196.06 A46.0,59.5 -12 1 1 1362.99,176.94 Z" fill="url(#gRgap)" />
<path d="M1345.07,169.74 A42.6,61.3 -12 1 1 1261.73,187.46 A42.6,61.3 -12 1 1 1345.07,169.74 Z" fill="#808080" />
<path d="M1338.68,173.65 A37.75,49.5 -12 1 1 1264.82,189.35 A37.75,49.5 -12 1 1 1338.68,173.65 Z" fill="url(#gBore)" />
<path d="M1338.14,173.77 A37.2,49 -12 1 1 1265.36,189.23 A37.2,49 -12 1 1 1338.14,173.77 Z" fill="none" stroke="#a0a0a0" stroke-width="0.8" stroke-dasharray="0 90 70 1000"/>
<path d="M1293,104 L1303,104 L1299,117 Z" fill="#4a4450"/>
<path d="M1266,120 L1275,118 L1269,132 Z" fill="#4a4450"/>
<path d="M1323,115 L1332,113 L1329,120 Z" fill="#4a4450"/>
<path d="M1277,229 L1286,233 L1278,237 Z" fill="#4a4450"/>
<path d="M1302,246 L1313,244 L1307,257 Z" fill="#4a4450"/>
<path d="M1385.78,164.25 A37.75,49.5 -12 1 1 1311.92,179.95 A37.75,49.5 -12 1 1 1385.78,164.25 Z" fill="#fff" clip-path="url(#cBore)"/>
</svg></body></html>
